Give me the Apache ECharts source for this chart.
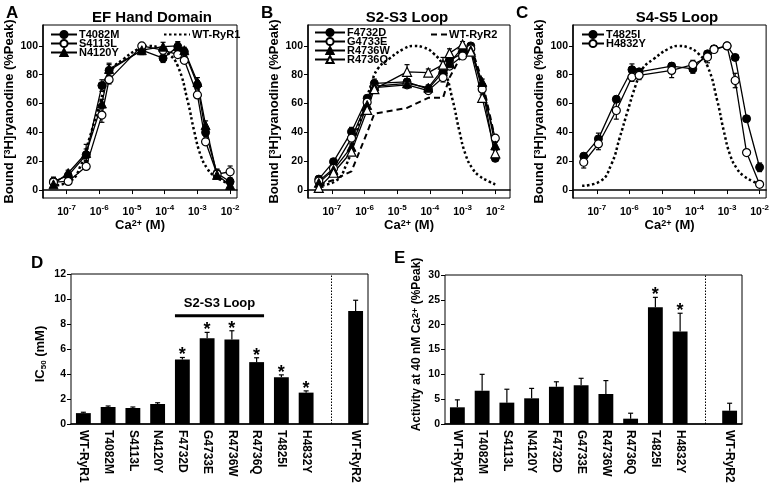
<!DOCTYPE html>
<html>
<head>
<meta charset="utf-8">
<script src="https://cdn.jsdelivr.net/npm/echarts@6/dist/echarts.min.js"></script>
<style>
  html, body { margin: 0; background: #fff; }
  #chart { width: 772px; height: 487px; }
</style>
</head>
<body>
<div id="chart"></div>
<script>
// Ca2+ concentrations, as log10 of molar
const caLog = [-7.4, -6.95, -6.4, -5.92, -5.7, -4.7, -4.05, -3.6, -3.4, -3.0, -2.75, -2.4, -2.0];
const decades = [-7, -6, -5, -4, -3, -2];
const pctTicks = [0, 20, 40, 60, 80, 100];

// WT-RyR1 reference curve (dotted, in A, B, C)
const wt1Log = [-7.45, -6.9, -6.55, -6.3, -6.05, -5.8, -5.6, -5.25, -4.8, -4.5, -4.2, -3.9, -3.6, -3.3, -3.1, -2.9, -2.7, -2.5, -2.2, -2.0];
const wt1 = [3, 6, 18, 36, 55, 73, 84, 91, 98, 100, 99, 95, 86, 62, 41, 24, 15, 10, 6, 4];
// WT-RyR2 (dashed, B)
const wt2 = [3.5, 7, 13, 40, 53, 57, 64, 64, 78, 95, 100, 76, 35];

// A: EF hand domain
const t4082m = [6, 10, 24.5, 72.5, 83, 97, 91.5, 99.5, 96, 73, 40, 11.6, 5.8];
const t4082mErr = [3, 3, 4, 4, 5, 2, 3, 3, 2, 3, 3, 3, 2];
const s4113l = [5.5, 6, 16.4, 52, 76.6, 100, 97, 94, 90, 66, 33.5, 11, 12.7];
const s4113lErr = [3, 2, 2, 5, 3, 1, 2, 2, 2, 2, 2, 2, 4];
const n4120y = [4, 11.8, 25.7, 60, 84, 97, 99.5, 100, 97, 75, 45, 10.5, 3.5];
const n4120yErr = [2, 2, 6, 3, 3, 3, 3, 3, 2, 3, 3, 2, 2];

// B: S2-S3 loop
const f4732d = [7.6, 19.7, 40.5, 63.7, 74, 75, 70, 82, 90, 95, 100, 72, 22];
const f4732dErr = [2, 2, 3, 2, 3, 2, 2, 2, 2, 2, 1, 2, 2];
const g4733e = [6.2, 15, 36, 61, 71, 73, 69, 78, 86, 93, 98, 70, 36];
const g4733eErr = [2, 2, 2, 2, 2, 2, 2, 3, 2, 2, 2, 2, 2];
const r4736w = [5, 14, 30, 59, 72, 74, 71, 84, 88, 99, 97, 75, 31];
const r4736wErr = [2, 2, 2, 2, 2, 2, 2, 3, 2, 2, 2, 2, 2];
const r4736q = [1.5, 12, 26.6, 55.6, 70, 82, 81.5, 87, 95, 101, 96, 64, 25.5];
const r4736qErr = [2, 2, 2, 2, 2, 5, 2.5, 5, 3, 2, 2, 2, 2];

// C: S4-S5 loop
const t4825i = [23.5, 35.5, 63, 83.5, 82, 86, 84, 94.5, 98, 100, 92, 49.5, 15.8];
const t4825iErr = [2, 4, 2, 4, 2, 2, 3, 2, 2, 1, 2, 2, 3];
const h4832y = [19.3, 32, 55.2, 78.4, 79.6, 83, 87, 92.3, 97.5, 100, 76, 26, 4];
const h4832yErr = [4, 4, 6, 3, 3, 5, 3, 4, 2, 2, 5, 2, 1];

// D, E: bar panels (empty slot before WT-RyR2)
const barNames = ['WT-RyR1', 'T4082M', 'S4113L', 'N4120Y', 'F4732D', 'G4733E', 'R4736W', 'R4736Q', 'T4825I', 'H4832Y', '', 'WT-RyR2'];
const ic50 = [0.87, 1.36, 1.28, 1.6, 5.16, 6.87, 6.76, 4.95, 3.74, 2.51, null, 9.04];
const ic50Err = [0.07, 0.08, 0.08, 0.1, 0.16, 0.46, 0.7, 0.35, 0.19, 0.14, null, 0.86];
const ic50Sig = [0, 0, 0, 0, 1, 1, 1, 1, 1, 1, 0, 0];
const act40 = [3.36, 6.7, 4.3, 5.17, 7.5, 7.8, 6.04, 1.07, 23.5, 18.6, null, 2.68];
const act40Err = [1.5, 3.3, 2.7, 2.0, 1.0, 1.4, 2.7, 1.1, 2.0, 3.7, null, 1.5];
const act40Sig = [0, 0, 0, 0, 0, 0, 0, 0, 1, 1, 0, 0];
const loopSpan = [4, 7, 8.66]; // first bar, last bar, height

const FONT = '"Liberation Sans", Arial, sans-serif';
const txt = { fontFamily: FONT, fontWeight: 'bold', color: '#000' };

const chart = echarts.init(document.getElementById('chart'));

const grids = [
  { left: 43, top: 25, width: 194, height: 173 },
  { left: 308, top: 25, width: 202, height: 173 },
  { left: 573, top: 25, width: 195, height: 173 },
  { left: 71, top: 274, width: 297, height: 150 },
  { left: 445, top: 275, width: 297, height: 149 }
].map(g => ({ ...g, show: true, borderColor: '#000', borderWidth: 1 }));

const axisLine = { lineStyle: { color: '#000', width: 1.5 } };
const axisTick = len => ({ show: true, length: len, lineStyle: { color: '#000', width: 1 } });
const supRich = { s: { ...txt, fontSize: 9, verticalAlign: 'top', lineHeight: 10 } };

function logAxis(gi, min, max) {
  return {
    type: 'value', gridIndex: gi, min, max,
    axisLine, splitLine: { show: false },
    axisTick: { ...axisTick(4), customValues: decades },
    axisLabel: {
      customValues: decades, margin: 6,
      formatter: v => '{b|10}{s|' + v + '}',
      rich: {
        b: { ...txt, fontSize: 10.5, verticalAlign: 'bottom', lineHeight: 14 },
        s: { ...txt, fontSize: 8, verticalAlign: 'top', lineHeight: 9 }
      }
    },
    name: 'Ca{s|2+} (M)', nameLocation: 'middle', nameGap: 21,
    nameTextStyle: { ...txt, fontSize: 13, rich: supRich }
  };
}

function pctAxis(gi) {
  return {
    type: 'value', gridIndex: gi, min: -5.5, max: 114.5,
    axisLine, splitLine: { show: false },
    axisTick: { ...axisTick(4), customValues: pctTicks },
    axisLabel: { ...txt, fontSize: 10.5, margin: 5, customValues: pctTicks },
    name: 'Bound [{s|3}H]ryanodine (%Peak)', nameLocation: 'middle', nameGap: 27,
    nameTextStyle: { ...txt, fontSize: 13, rich: supRich }
  };
}

function catAxis(gi) {
  return {
    type: 'category', gridIndex: gi, data: barNames,
    axisLine, axisTick: { show: false },
    axisLabel: { ...txt, fontSize: 12, rotate: -90, interval: 0, margin: 6 }
  };
}

const pair = (xs, ys) => xs.map((x, i) => [x, ys[i]]);

function mutant(name, gi, ys, symbol, open) {
  return {
    type: 'line', name, xAxisIndex: gi, yAxisIndex: gi,
    data: pair(caLog, ys), symbol, symbolSize: symbol === 'triangle' ? 9 : 8,
    lineStyle: { color: '#000', width: 1.3 },
    itemStyle: open ? { color: '#fff', borderColor: '#000', borderWidth: 1.2 }
                    : { color: '#000', borderColor: '#000', borderWidth: 1 },
    z: 3
  };
}

function refCurve(name, gi, xs, ys, dash, smooth) {
  return {
    type: 'line', name, xAxisIndex: gi, yAxisIndex: gi,
    data: pair(xs, ys), symbol: 'none', smooth,
    lineStyle: { color: '#000', width: dash === 'dotted' ? 2.5 : 2, type: dash === 'dotted' ? [2.5, 2.5] : [6, 4] },
    itemStyle: { color: '#000' }, z: 2
  };
}

// vertical error bars; upOnly for bar charts
function errBars(gi, xs, ys, es, cap, upOnly) {
  const data = [];
  xs.forEach((x, i) => { if (ys[i] != null) data.push([x, ys[i], es[i]]); });
  return {
    type: 'custom', xAxisIndex: gi, yAxisIndex: gi, silent: true, z: upOnly ? 4 : 1,
    data,
    renderItem(params, api) {
      const x = api.value(0), y = api.value(1), e = api.value(2);
      const lo = api.coord([x, upOnly ? y : y - e]);
      const hi = api.coord([x, y + e]);
      const st = { stroke: '#000', lineWidth: 1.2 };
      const kids = [
        { type: 'line', shape: { x1: lo[0], y1: lo[1], x2: hi[0], y2: hi[1] }, style: st },
        { type: 'line', shape: { x1: hi[0] - cap / 2, y1: hi[1], x2: hi[0] + cap / 2, y2: hi[1] }, style: st }
      ];
      if (!upOnly) kids.push({ type: 'line', shape: { x1: lo[0] - cap / 2, y1: lo[1], x2: lo[0] + cap / 2, y2: lo[1] }, style: st });
      return { type: 'group', children: kids };
    }
  };
}

function stars(gi, ys, es, sig) {
  const data = [];
  ys.forEach((y, i) => { if (sig[i]) data.push([i, y + es[i]]); });
  return {
    type: 'custom', xAxisIndex: gi, yAxisIndex: gi, silent: true, z: 5, data,
    renderItem(params, api) {
      const p = api.coord([api.value(0), api.value(1)]);
      return { type: 'text', x: p[0], y: p[1] + 7, style: { text: '*', font: 'bold 18px ' + FONT, textAlign: 'center', textVerticalAlign: 'bottom', fill: '#000' } };
    }
  };
}

function bars(gi, ys) {
  return {
    type: 'bar', xAxisIndex: gi, yAxisIndex: gi, data: ys, barWidth: '60%',
    itemStyle: { color: '#000' }, z: 3,
    markLine: {
      silent: true, symbol: 'none', label: { show: false },
      lineStyle: { color: '#000', type: [1.5, 1.5], width: 1 },
      data: [{ xAxis: 10 }]
    }
  };
}

const legendBase = {
  orient: 'vertical', itemWidth: 26, itemHeight: 9, itemGap: -2,
  textStyle: { ...txt, fontSize: 11, padding: [0, 0, 0, -3] },
  selectedMode: false
};
// reference curves: line only, no marker in the key
const lineOnly = { itemStyle: { opacity: 0 } };

const title = (text, left, top, size, align) => ({
  text, left, top, textAlign: align || 'left',
  textStyle: { ...txt, fontSize: size }
});

chart.setOption({
  animation: false,
  backgroundColor: '#fff',
  title: [
    title('A', 1, 0, 17), title('B', 256, 0, 17), title('C', 511, 0, 17),
    title('D', 26, 250, 17), title('E', 389, 245, 17),
    title('EF Hand Domain', 147, 5, 15, 'center'),
    title('S2-S3 Loop', 402, 5, 15, 'center'),
    title('S4-S5 Loop', 672, 5, 15, 'center')
  ],
  legend: [
    { ...legendBase, left: 45, top: 24, data: ['T4082M', 'S4113L', 'N4120Y'] },
    { ...legendBase, ...lineOnly, left: 158, top: 24, data: ['WT-RyR1'] },
    { ...legendBase, left: 309, top: 22, itemWidth: 30, data: ['F4732D', 'G4733E', 'R4736W', 'R4736Q'] },
    { ...legendBase, ...lineOnly, left: 425, top: 24, itemWidth: 16, data: ['WT-RyR2'] },
    { ...legendBase, left: 576, top: 24, itemWidth: 22, data: ['T4825I', 'H4832Y'] }
  ],
  grid: grids,
  xAxis: [
    logAxis(0, -7.72, -1.79), logAxis(1, -7.73, -1.55), logAxis(2, -7.73, -1.8),
    catAxis(3), catAxis(4)
  ],
  yAxis: [
    pctAxis(0), pctAxis(1), pctAxis(2),
    {
      type: 'value', gridIndex: 3, min: 0, max: 12, interval: 2,
      axisLine, axisTick: axisTick(4), splitLine: { show: false },
      axisLabel: { ...txt, fontSize: 10.5, margin: 5 },
      name: 'IC{s|50} (mM)', nameLocation: 'middle', nameGap: 23,
      nameTextStyle: { ...txt, fontSize: 13, padding: [0, 10, 0, 0], rich: { s: { ...txt, fontSize: 8, verticalAlign: 'bottom', lineHeight: 15 } } }
    },
    {
      type: 'value', gridIndex: 4, min: 0, max: 30, interval: 5,
      axisLine, axisTick: axisTick(4), splitLine: { show: false },
      axisLabel: { ...txt, fontSize: 10.5, margin: 5 },
      name: 'Activity at 40 nM Ca{s|2+} (%Peak)', nameLocation: 'middle', nameGap: 22,
      nameTextStyle: { ...txt, fontSize: 12, padding: [0, 0, 0, 10], rich: supRich }
    }
  ],
  series: [
    // A
    refCurve('WT-RyR1', 0, wt1Log, wt1, 'dotted', true),
    errBars(0, caLog, t4082m, t4082mErr, 5),
    errBars(0, caLog, s4113l, s4113lErr, 5),
    errBars(0, caLog, n4120y, n4120yErr, 5),
    mutant('T4082M', 0, t4082m, 'circle', false),
    mutant('S4113L', 0, s4113l, 'circle', true),
    mutant('N4120Y', 0, n4120y, 'triangle', false),
    // B
    refCurve('WT-RyR1', 1, wt1Log, wt1, 'dotted', true),
    refCurve('WT-RyR2', 1, caLog, wt2, 'dashed', false),
    errBars(1, caLog, f4732d, f4732dErr, 5),
    errBars(1, caLog, g4733e, g4733eErr, 5),
    errBars(1, caLog, r4736w, r4736wErr, 5),
    errBars(1, caLog, r4736q, r4736qErr, 5),
    mutant('F4732D', 1, f4732d, 'circle', false),
    mutant('G4733E', 1, g4733e, 'circle', true),
    mutant('R4736W', 1, r4736w, 'triangle', false),
    mutant('R4736Q', 1, r4736q, 'triangle', true),
    // C
    refCurve('WT-RyR1', 2, wt1Log, wt1, 'dotted', true),
    errBars(2, caLog, t4825i, t4825iErr, 5),
    errBars(2, caLog, h4832y, h4832yErr, 5),
    mutant('T4825I', 2, t4825i, 'circle', false),
    mutant('H4832Y', 2, h4832y, 'circle', true),
    // D
    bars(3, ic50),
    errBars(3, barNames.map((_, i) => i), ic50, ic50Err, 5, true),
    stars(3, ic50, ic50Err, ic50Sig),
    {
      type: 'custom', xAxisIndex: 3, yAxisIndex: 3, silent: true, z: 5,
      data: [loopSpan],
      renderItem(params, api) {
        const a = api.coord([api.value(0), api.value(2)]);
        const b = api.coord([api.value(1), api.value(2)]);
        const half = api.size([1, 0])[0] * 0.3;
        return {
          type: 'group', children: [
            { type: 'line', shape: { x1: a[0] - half, y1: a[1], x2: b[0] + half, y2: b[1] }, style: { stroke: '#000', lineWidth: 3 } },
            { type: 'text', x: (a[0] + b[0]) / 2, y: a[1] - 6, style: { text: 'S2-S3 Loop', font: 'bold 13px ' + FONT, fill: '#000', textAlign: 'center', textVerticalAlign: 'bottom' } }
          ]
        };
      }
    },
    // E
    bars(4, act40),
    errBars(4, barNames.map((_, i) => i), act40, act40Err, 5, true),
    stars(4, act40, act40Err, act40Sig)
  ]
});
</script>
</body>
</html>
